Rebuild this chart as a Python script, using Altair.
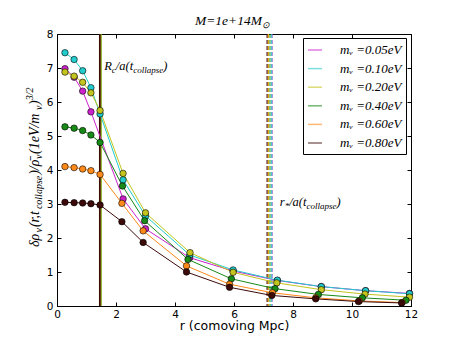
import altair as alt
import pandas as pd

# ---------------- data ----------------
labels = ["mᵥ =0.05eV", "mᵥ =0.10eV", "mᵥ =0.20eV", "mᵥ =0.40eV", "mᵥ =0.60eV", "mᵥ =0.80eV"]
colors = ["#cc22cc", "#22cccc", "#c4c41e", "#178a17", "#ff8a1a", "#3d0a0a"]

r_005 = [0.27, 0.58, 0.87, 1.15, 2.24, 3.0, 4.5, 5.97, 7.47, 8.96, 10.46, 11.95]
d_005 = [6.98, 6.73, 6.32, 5.71, 3.15, 2.27, 1.42, 1.03, 0.75, 0.57, 0.45, 0.37]
r_010 = [0.27, 0.58, 0.87, 1.15, 1.46, 2.24, 3.0, 4.5, 5.97, 7.47, 8.96, 10.46, 11.95]
d_010 = [7.45, 7.25, 6.92, 6.42, 5.65, 3.71, 2.65, 1.50, 1.06, 0.76, 0.57, 0.45, 0.36]
r_020 = [0.27, 0.58, 0.87, 1.15, 1.46, 2.24, 3.0, 4.51, 5.97, 7.45, 8.96, 10.44, 11.95]
d_020 = [6.88, 6.76, 6.58, 6.27, 5.75, 3.90, 2.74, 1.57, 0.99, 0.68, 0.48, 0.35, 0.26]
r_040 = [0.27, 0.58, 0.87, 1.15, 1.46, 2.22, 2.97, 4.44, 5.91, 7.39, 8.86, 10.35, 11.83]
d_040 = [5.27, 5.23, 5.16, 5.03, 4.81, 3.53, 2.51, 1.37, 0.80, 0.51, 0.34, 0.24, 0.17]
r_060 = [0.27, 0.58, 0.87, 1.15, 1.46, 2.2, 2.92, 4.39, 5.85, 7.30, 8.77, 10.25, 11.7]
d_060 = [4.10, 4.07, 4.03, 3.98, 3.87, 3.02, 2.21, 1.18, 0.64, 0.39, 0.24, 0.15, 0.10]
r_080 = [0.27, 0.58, 0.87, 1.15, 1.46, 2.2, 2.92, 4.39, 5.85, 7.28, 8.77, 10.22, 11.68]
d_080 = [3.05, 3.04, 3.03, 3.01, 2.97, 2.48, 1.87, 1.00, 0.55, 0.31, 0.21, 0.13, 0.09]

series_r = [r_005, r_010, r_020, r_040, r_060, r_080]
series_d = [d_005, d_010, d_020, d_040, d_060, d_080]

rc_x = [1.46, 1.46, 1.49, 1.475, 1.45, 1.45]     # R_c / a(t_collapse)
rstar_x = [7.29, 7.28, 7.17, 7.22, 7.15, 7.12]   # r_* / a(t_collapse)

x_ticks = [0, 2, 4, 6, 8, 10, 12]
y_ticks = [0, 1, 2, 3, 4, 5, 6, 7, 8]

rows = []
for lab, col, rs, ds in zip(labels, colors, series_r, series_d):
    for i, (a, b) in enumerate(zip(rs, ds)):
        rows.append({"label": lab, "col": col, "r": a, "v": b, "i": i})
df = pd.DataFrame(rows)
rc_df = pd.DataFrame({"x": rc_x, "col": colors})
rs_df = pd.DataFrame({"x": rstar_x, "col": colors})
one = pd.DataFrame({"a": [0]})

# ---------------- scales / axes ----------------
xs = alt.Scale(domain=[0, 12], nice=False, zero=False)
ys = alt.Scale(domain=[0, 8], nice=False, zero=False)
cs = alt.Scale(domain=labels, range=colors)

base_axis = dict(domain=False, grid=False, tickSize=4, tickColor="black", tickWidth=1,
                 offset=-4, labelFont="DejaVu Sans", labelFontSize=10.5, labelColor="black")
xaxis = alt.Axis(orient="bottom", values=x_ticks, format="d", labelPadding=3, labelFlush=False,
                 title="r (comoving Mpc)", titleFont="DejaVu Sans", titleFontSize=12.5,
                 titleFontWeight="normal", titleColor="black", titlePadding=0, **base_axis)
yaxis = alt.Axis(orient="left", values=y_ticks, format="d", labelPadding=4, title=None, **base_axis)
xtop = alt.Axis(orient="top", values=x_ticks, labels=False, title=None, **base_axis)
yright = alt.Axis(orient="right", values=y_ticks, labels=False, title=None, **base_axis)

legend = alt.Legend(title=None, orient="none", legendX=246, legendY=4, symbolType="stroke",
                    symbolSize=196, symbolStrokeWidth=1.5, symbolOpacity=0.6,
                    labelFont="Liberation Serif", labelFontStyle="italic", labelFontSize=13,
                    labelColor="black", labelOffset=17, rowPadding=3.6, padding=4,
                    strokeColor="black", fillColor="white", cornerRadius=0)

# ---------------- layers ----------------
rules_rc = alt.Chart(rc_df).mark_rule(strokeWidth=1.6).encode(
    x=alt.X("x:Q", scale=xs, axis=None),
    stroke=alt.Stroke("col:N", scale=None),
)
rules_rs = alt.Chart(rs_df).mark_rule(strokeWidth=1.0, strokeDash=[4, 2]).encode(
    x=alt.X("x:Q", scale=xs, axis=None),
    stroke=alt.Stroke("col:N", scale=None),
)
lines = alt.Chart(df).mark_line(strokeWidth=1).encode(
    x=alt.X("r:Q", scale=xs, axis=xaxis),
    y=alt.Y("v:Q", scale=ys, axis=yaxis),
    color=alt.Color("label:N", scale=cs, sort=labels, legend=legend),
    order=alt.Order("i:Q"),
)
points = alt.Chart(df).mark_circle(size=42, stroke="black", strokeWidth=0.6, opacity=1).encode(
    x=alt.X("r:Q", scale=xs, axis=None),
    y=alt.Y("v:Q", scale=ys, axis=None),
    fill=alt.Fill("col:N", scale=None),
)
frame = alt.Chart(df).mark_point(opacity=0).encode(
    x=alt.X("r:Q", scale=xs, axis=xtop),
    y=alt.Y("v:Q", scale=ys, axis=yright),
)

FONT = "Liberation Serif"


def dtext(s, xv, yv, dx=0, dy=0, size=12.5):
    return alt.Chart(one).mark_text(
        text=s, align="left", baseline="alphabetic", dx=dx, dy=dy, fontSize=size,
        font=FONT, fontStyle="italic", color="black",
    ).encode(x=alt.XDatum(xv, axis=None), y=alt.YDatum(yv, axis=None))


def ptext(s, px, py, dx=0, dy=0, size=12.5, angle=0):
    return alt.Chart(one).mark_text(
        text=s, align="left", baseline="alphabetic", dx=dx, dy=dy, fontSize=size,
        font=FONT, fontStyle="italic", color="black", angle=angle,
    ).encode(x=alt.value(px), y=alt.value(py))


texts = []
# R_c/a(t_collapse)
for s, dx, dy, sz in [("R", 0, 0, 12.5), ("c", 7.6, 3, 9), ("/a(t", 11.6, 0, 12.5),
                      ("collapse", 29.0, 3, 9), (")", 59.0, 0, 12.5)]:
    texts.append(dtext(s, 1.60, 6.94, dx, dy, sz))
# r_*/a(t_collapse)
for s, dx, dy, sz in [("r", 0, 0, 12.5), ("*", 4.9, 3, 9), ("/a(t", 9.4, 0, 12.5),
                      ("collapse", 26.8, 3, 9), (")", 56.8, 0, 12.5)]:
    texts.append(dtext(s, 7.55, 2.94, dx, dy, sz))
# title M=1e+14M_sun
texts.append(ptext("M=1e+14M", 138, -9, 0, 0, 13.5))
texts.append(ptext("⊙", 138, -9, 67, 3, 9))
# y label (rotated, built from pieces so sub/superscripts can be offset)
ylab = [("δρ", 0, 0, 14), ("ν", 14.5, 3, 10), ("(r,t", 19.9, 0, 14), ("collapse", 37.9, 3, 10),
        (")/ρ̄", 72.2, 0, 14), ("ν", 88.1, 3, 10), (" (1eV/m", 93.0, 0, 14),
        ("ν", 137.1, 3, 10), (")", 142.0, 0, 14), ("3/2", 146.7, -6, 10)]
for s, dx, dy, sz in ylab:
    texts.append(ptext(s, -18, 213, dx, dy, sz, angle=270))

chart = alt.layer(rules_rc, rules_rs, lines, points, frame, *texts).resolve_axis(
    x="independent", y="independent"
).properties(
    width=354, height=272,
    padding={"left": 49, "top": 26, "right": 36, "bottom": 27},
    autosize=alt.AutoSizeParams(type="none"),
    background="white",
).configure_view(stroke="black", strokeWidth=1)

chart.save("out.html", embed_options={"renderer": "svg", "actions": False})
